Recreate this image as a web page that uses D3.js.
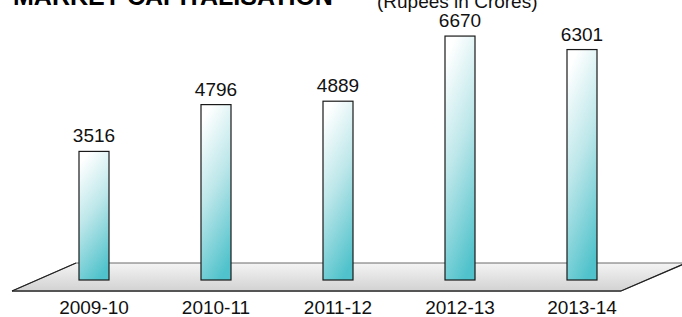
<!DOCTYPE html>
<html>
<head>
<meta charset="utf-8">
<script src="https://cdn.jsdelivr.net/npm/d3@7"></script>
<style>
  html, body { margin: 0; padding: 0; background: #fff; }
  svg { display: block; font-family: 'Liberation Sans', Arial, Helvetica, sans-serif; }
</style>
</head>
<body>
<svg id="chart" width="682" height="317"></svg>
<script>
// Market capitalisation, rupees in crores
const years = ['2009-10', '2010-11', '2011-12', '2012-13', '2013-14']
const values = [3516, 4796, 4889, 6670, 6301]

const svg = d3.select('#chart')

const x = d3.scalePoint()
    .domain(years)
    .range([94, 582])

const y = d3.scaleLinear()
    .domain([0, 7000])
    .range([280, 24])

const barWidth = 30

const defs = svg.append('defs')

// Floor gradient
let floorGrad = defs.append('linearGradient')
    .attr('id', 'floor-grad')
    .attr('x1', 0).attr('y1', 0)
    .attr('x2', 0).attr('y2', 1)
floorGrad.append('stop').attr('offset', '0%').attr('stop-color', '#f4f4f4')
floorGrad.append('stop').attr('offset', '100%').attr('stop-color', '#d2d2d2')

// Bar gradient
let barGrad = defs.append('linearGradient')
    .attr('id', 'bar-grad')
    .attr('x1', 0.35).attr('y1', 0)
    .attr('x2', 0.65).attr('y2', 1)
barGrad.append('stop').attr('offset', '0%').attr('stop-color', '#ffffff')
barGrad.append('stop').attr('offset', '45%').attr('stop-color', '#bde7ea')
barGrad.append('stop').attr('offset', '100%').attr('stop-color', '#4fc2cb')

// Floor (perspective plane)
const floor = { backY: 263, frontY: 291, backLeft: 76, backRight: 686, frontLeft: 12, frontRight: 621 }

svg.append('path')
  .attr('d', 'M' + floor.backLeft + ',' + floor.backY +
    'L' + floor.backRight + ',' + floor.backY +
    'L' + floor.frontRight + ',' + floor.frontY +
    'L' + floor.frontLeft + ',' + floor.frontY + 'Z')
  .style('fill', 'url(#floor-grad)')
  .style('stroke', '#6a6a6a')
  .style('stroke-width', 1)

svg.append('line')
  .attr('x1', floor.frontLeft).attr('y1', floor.frontY)
  .attr('x2', floor.frontRight).attr('y2', floor.frontY)
  .style('stroke', '#555')
  .style('stroke-width', 2)

svg.append('line')
  .attr('x1', floor.frontLeft).attr('y1', floor.frontY)
  .attr('x2', floor.backLeft).attr('y2', floor.backY)
  .style('stroke', '#222')
  .style('stroke-width', 1.2)

svg.append('line')
  .attr('x1', floor.frontRight).attr('y1', floor.frontY)
  .attr('x2', floor.backRight).attr('y2', floor.backY)
  .style('stroke', '#222')
  .style('stroke-width', 1.2)

// Bars
svg.selectAll('.bar')
  .data(values)
  .enter().append('rect')
  .attr('class', 'bar')
  .attr('x', (d, i) => x(years[i]) - barWidth / 2)
  .attr('y', d => y(d))
  .attr('width', barWidth)
  .attr('height', d => y(0) - y(d))
  .style('fill', 'url(#bar-grad)')
  .style('stroke', '#1a1a1a')
  .style('stroke-width', 1.2)

// Value labels
svg.selectAll('.value')
  .data(values)
  .enter().append('text')
  .attr('class', 'value')
  .attr('x', (d, i) => x(years[i]))
  .attr('y', d => y(d) - 9)
  .attr('text-anchor', 'middle')
  .style('font-size', '19px')
  .style('fill', '#111')
  .text(d => d)

// Category labels
svg.selectAll('.year')
  .data(years)
  .enter().append('text')
  .attr('class', 'year')
  .attr('x', d => x(d))
  .attr('y', 314)
  .attr('text-anchor', 'middle')
  .style('font-size', '19px')
  .style('fill', '#111')
  .text(d => d)

// Title
svg.append('text')
  .attr('x', 13)
  .attr('y', 5)
  .style('font-size', '25px')
  .style('font-weight', 'bold')
  .style('fill', '#000')
  .text('MARKET CAPITALISATION')

svg.append('text')
  .attr('x', 377)
  .attr('y', 8)
  .style('font-size', '19px')
  .style('fill', '#111')
  .text('(Rupees in Crores)')
</script>
</body>
</html>
